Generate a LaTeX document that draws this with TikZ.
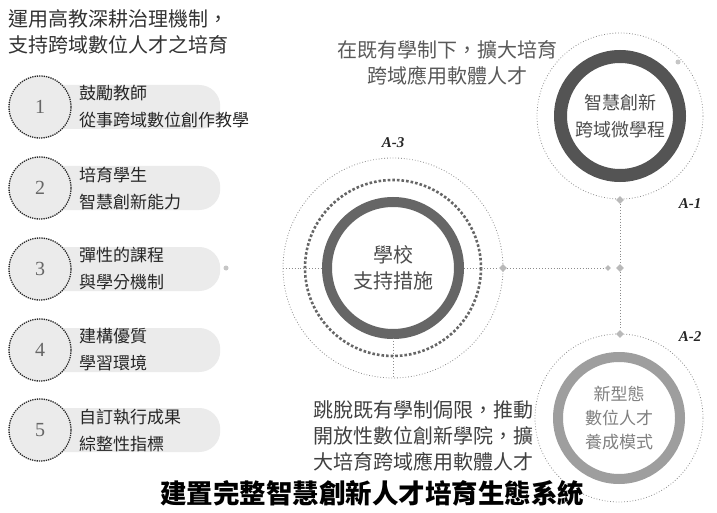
\documentclass[tikz,border=0pt]{standalone}
\usepackage{fontspec}
\setmainfont{Noto Sans CJK TC}
\newfontfamily\labfont{Liberation Serif}
\usetikzlibrary{shapes.geometric}
\definecolor{pillgray}{gray}{0.92}
\definecolor{ringA}{gray}{0.33}
\definecolor{ringB}{gray}{0.40}
\definecolor{ringC}{gray}{0.62}
\definecolor{lineg}{gray}{0.55}
\definecolor{txtg}{gray}{0.30}
\tikzset{
  pillbox/.style={fill=pillgray, rounded corners=21pt, minimum width=182pt, minimum height=44pt, anchor=west, inner sep=0pt},
  numcirc/.style={circle, draw=black!85, densely dotted, line width=1.3pt, fill=pillgray, minimum size=62pt, inner sep=0pt, font=\labfont\fontsize{20}{20}\selectfont, text=black!60},
  itemtext/.style={anchor=west, align=left, inner sep=0pt, font=\fontsize{17}{27}\selectfont, text=black!85},
  bigring/.style={circle, inner sep=0pt, align=center},
  lightring/.style={draw=lineg, dotted, line width=0.8pt},
  conn/.style={draw=lineg, dotted, line width=0.9pt},
  marker/.style={diamond, fill=gray!55, inner sep=0pt, minimum size=8pt},
  smalldot/.style={circle, fill=gray!45, inner sep=0pt, minimum size=5pt},
  alabel/.style={font=\labfont\bfseries\itshape\fontsize{15}{15}\selectfont, text=black!85},
  bodytext/.style={align=center, inner sep=0pt, font=\fontsize{20}{26}\selectfont},
}
\begin{document}
\begin{tikzpicture}[x=1pt,y=-1pt]
\useasboundingbox[fill=white] (0,0) rectangle (717,513);

% top-left heading
\node[anchor=north west, align=left, inner sep=0pt, font=\fontsize{20}{26}\selectfont, text=black!80] (head) at (8,9) {運用高教深耕治理機制，\\支持跨域數位人才之培育};

% numbered items
\foreach \i/\y/\a/\b in {1/107/鼓勵教師/從事跨域數位創作教學,
                         2/188/培育學生/智慧創新能力,
                         3/269/彈性的課程/與學分機制,
                         4/350/建構優質/學習環境,
                         5/430/自訂執行成果/綜整性指標}{
  \node[pillbox] (pill\i) at (38,\y) {};
  \node[numcirc] (num\i) at (40,\y) {\i};
  \node[itemtext] (item\i) at (79,\y) {\a\\\b};
}
\node[smalldot] (p3dot) at (226,268) {};

% center circle
\node[bigring, minimum size=132pt, draw=ringB, line width=10pt, font=\fontsize{20}{26}\selectfont, text=txtg] (school) at (393,268) {學校\\支持措施};
\draw[ringB, dotted, line width=2.6pt] (school.center) circle (88);
\draw[lightring] (school.center) circle (110);
\coordinate (schW) at (283,268);
\coordinate (schIW) at (322,268);
\coordinate (schIE) at (464,268);
\node[marker] (schE) at (503,268) {};
\coordinate (schS1) at (393,338);
\coordinate (schS2) at (393,378);
\node[alabel] (a3) at (393,143) {A-3};

% top-right circle
\node[bigring, minimum size=119pt, draw=ringA, line width=13pt, font=\fontsize{18}{27}\selectfont, text=txtg] (micro) at (620,116) {智慧創新\\跨域微學程};
\draw[lightring] (micro.center) circle (83);
\node[marker] (microS) at (620,200) {};
\node[smalldot] (microNE) at (678,62) {};
\node[alabel] (a1) at (690,204) {A-1};

% bottom-right circle
\node[bigring, minimum size=122pt, draw=ringC, line width=10pt, font=\fontsize{17}{24}\selectfont, text=black!50] (newmode) at (619,418) {新型態\\數位人才\\養成模式};
\draw[lightring] (newmode.center) circle (84);
\node[marker] (newN) at (620,334) {};
\node[alabel] (a2) at (690,337) {A-2};

% junction
\node[marker] (junc) at (620,268) {};
\node[marker, minimum size=6pt] (juncL) at (608,268) {};

% connectors
\draw[conn] (schW) -- (schIW);
\draw[conn] (schIE) -- (schE);
\draw[conn] (schE) -- (juncL);
\draw[conn] (schS1) -- (schS2);
\draw[conn] (microS) -- (junc);
\draw[conn] (junc) -- (newN);

% texts
\node[bodytext, text=black!65] (toptext) at (447,63) {在既有學制下，擴大培育\\跨域應用軟體人才};
\node[bodytext, text=black!75] (bottext) at (423,436) {跳脫既有學制侷限，推動\\開放性數位創新學院，擴\\大培育跨域應用軟體人才};

% title
\node[inner sep=0pt, font=\bfseries\fontsize{26.5}{26.5}\selectfont] (title) at (372,493) {建置完整智慧創新人才培育生態系統};
\end{tikzpicture}
\end{document}
